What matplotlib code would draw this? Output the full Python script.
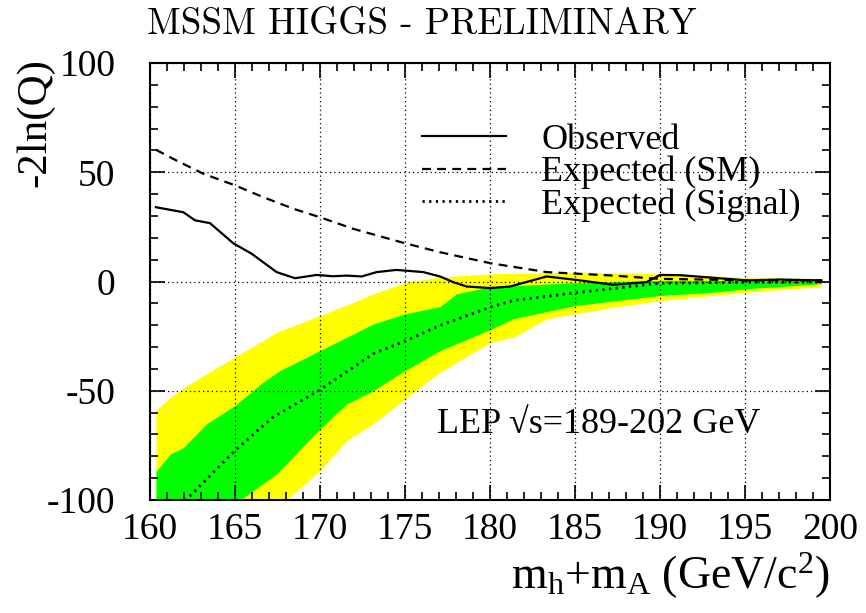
import matplotlib
matplotlib.use("Agg")
import matplotlib.pyplot as plt
import numpy as np

plt.rcParams['font.family'] = ['Liberation Serif', 'DejaVu Serif']
plt.rcParams['mathtext.fontset'] = 'custom'
plt.rcParams['mathtext.rm'] = 'Liberation Serif'
plt.rcParams['mathtext.it'] = 'Liberation Serif:italic'

# --- data ---
obs_x = [160.35, 161.96, 162.65, 163.53, 164.9, 165.98, 167.45, 168.53, 169.8, 170.76,
         171.57, 172.45, 173.33, 174.5, 176.08, 177.06, 177.84, 178.63, 180.0, 181.18,
         183.33, 185.0, 187.25, 189.2, 190.0, 191.18, 193.14, 195.1, 197.06, 199.5]
obs_y = [34, 31.7, 28, 26.7, 17.5, 12.7, 4.3, 1.5, 3, 2.4,
         2.7, 2.3, 4.3, 5.3, 4.3, 2.3, -0.3, -2.3, -3, -2.3,
         2.3, 0.8, -1.5, -0.3, 3, 2.9, 1.7, 0.5, 0.9, 0.5]

sm_x = [160.35, 161.37, 163.14, 165.0, 166.66, 168.43, 170.0, 171.96, 175.0, 177.06,
        180.0, 183.33, 187.25, 190.0, 195.1, 199.5]
sm_y = [60.3, 56.1, 49.3, 44, 38.6, 33.3, 29.4, 24.1, 17.5, 13.4,
        8.4, 4.3, 2.7, 1.2, 0.6, 0.5]

sig_x = [160.35, 162.25, 165.0, 167.25, 170.0, 173.14, 175.0, 177.06, 180.0, 181.37,
         185.0, 190.0, 195.1, 199.5]
sig_y = [-113, -99, -77.3, -62, -49.6, -33, -27.3, -20.1, -11.8, -8.7,
         -5.2, -0.8, -0.4, -0.2]

# 2 sigma band (yellow)
y2_x = [160.35, 161.18, 162.55, 165.0, 167.45, 170.0, 171.96, 173.14, 175.1, 177.06,
        180.0, 185.0, 190.0, 195.1, 199.5]
y2_hi = [-59, -53, -45.8, -34.6, -23.2, -15.6, -9.5, -5.6, -0.3, 2,
         3.5, 4.3, 3.5, 2, 1.2]
y2l_x = [160.35, 165.0, 168.04, 170.0, 171.57, 173.14, 175.0, 177.06, 180.0, 181.37,
         183.33, 185.0, 187.25, 190.0, 195.1, 198.43, 199.5]
y2_lo = [-150, -120, -100, -86.5, -72.8, -65, -53.7, -41.5, -28, -25.5,
         -17, -14.8, -11.8, -8.7, -4.9, -2.9, -2.5]

# 1 sigma band (green)
g1_x = [160.35, 161.18, 161.96, 163.35, 165.0, 166.66, 167.65, 170.0, 173.14, 175.0,
        177.06, 178.04, 180.0, 185.0, 190.0, 195.1, 199.5]
g1_hi = [-87, -79, -76, -65, -56.7, -46, -40.7, -31.6, -19.4, -14.8,
         -11.4, -5.6, -2.5, -0.5, 0.5, 0.5, 0.3]
g1l_x = [160.35, 163.0, 165.3, 167.45, 170.0, 171.57, 173.14, 175.0, 177.06, 180.0,
         181.37, 185.0, 190.0, 193.14, 195.1, 199.5]
g1_lo = [-130, -115, -100, -88, -67.4, -56, -49.9, -40.7, -31.6, -22,
         -17, -11, -6.4, -4.9, -3.3, -1]

x_ticks = [160, 165, 170, 175, 180, 185, 190, 195, 200]
x_labels = ['160', '165', '170', '175', '180', '185', '190', '195', '200']
y_ticks = [-100, -50, 0, 50, 100]
y_labels = ['-100', '-50', '0', '50', '100']

# -----------------------------
fig = plt.figure(figsize=(8.66, 6.13), dpi=100)
ax = fig.add_axes([150 / 866, 113 / 613, 680 / 866, 437 / 613])

# bands on a common grid so fill_between can use them
bx = np.array(sorted(set(y2_x + y2l_x + g1_x + g1l_x)))
ax.fill_between(bx, np.interp(bx, y2l_x, y2_lo), np.interp(bx, y2_x, y2_hi),
                color='#ffff00', lw=0, zorder=1)
ax.fill_between(bx, np.interp(bx, g1l_x, g1_lo), np.interp(bx, g1_x, g1_hi),
                color='#00ff00', lw=0, zorder=2)

ax.plot(obs_x, obs_y, color='black', lw=1.6, label='Observed', zorder=5)
ax.plot(sm_x, sm_y, color='black', lw=1.6, dashes=(4, 2.8), label='Expected (SM)', zorder=5)
ax.plot(sig_x, sig_y, color='black', lw=2.0, dashes=(0.8, 1.6), label='Expected (Signal)', zorder=5)

ax.set_xlim(160, 200)
ax.set_ylim(-100, 100)
ax.set_xticks(x_ticks, x_labels)
ax.set_yticks(y_ticks, y_labels)
ax.set_xticks(np.arange(160, 201, 1), minor=True)
ax.set_yticks(np.arange(-100, 101, 10), minor=True)

ax.grid(True, which='major', color='black', lw=0.9, linestyle=(0, (1, 2.5)), zorder=3)
ax.set_axisbelow(False)

ax.tick_params(which='both', direction='in', top=True, right=True, width=1.2)
ax.tick_params(which='major', length=11, labelsize=27)
ax.tick_params(axis='x', which='major', pad=9)
ax.tick_params(axis='y', which='major', pad=25)
ax.tick_params(which='minor', length=5.5)
for s in ax.spines.values():
    s.set_linewidth(1.5)
    s.set_zorder(6)

ax.set_ylabel('-2ln(Q)', fontsize=31, loc='top')
ax.yaxis.set_label_coords(-0.14, 1.011)
ax.set_xlabel('m$_\\mathrm{h}$+m$_\\mathrm{A}$ (GeV/c$^2$)', fontsize=33, loc='right')
ax.xaxis.set_label_coords(1.0, -0.117)

ax.legend(loc='upper left', bbox_to_anchor=(0.4, 0.861), frameon=False, fontsize=26,
          handlelength=2.33, handletextpad=0.97, labelspacing=-0.03,
          borderpad=0, borderaxespad=0)

ax.text(176.9, -69.5, 'LEP \u221as=189-202 GeV', fontsize=26, va='baseline', ha='left', zorder=7)

fig.text(147 / 866, 1 - 8 / 613, 'MSSM HIGGS - PRELIMINARY', family='cmr10',
         fontsize=26.6, ha='left', va='top')

fig.savefig('out.png', dpi=100)
